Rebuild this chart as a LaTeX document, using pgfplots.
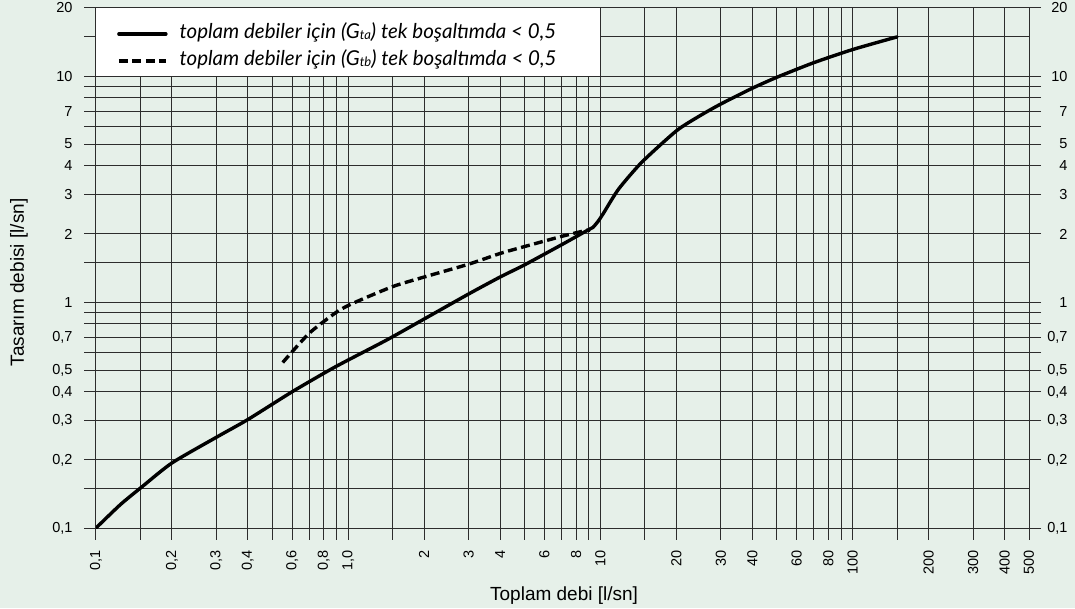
\documentclass[border=0pt]{standalone}
\usepackage{pgfplots}
\pgfplotsset{compat=1.18}
\usepackage{fontspec}
\setmainfont{Liberation Sans}
\newfontfamily\legfont{Lato}
\definecolor{bg}{RGB}{230,240,233}
\definecolor{gridc}{RGB}{45,45,45}

\pgfplotstableread{
x y
0.1 0.1
0.125 0.127
0.152 0.152
0.2 0.194
0.3 0.252
0.4 0.302
0.6 0.401
0.89 0.517
1.42 0.679
2.0 0.841
3.0 1.085
4.0 1.29
5.0 1.46
7.0 1.79
8.7 2.05
9.35 2.14
}\gtaA

\pgfplotstableread{
x y
9.35 2.14
9.8 2.28
10.3 2.48
11.8 3.16
14.6 4.16
20 5.72
24.5 6.62
30 7.52
40 8.83
50 9.87
70 11.45
100 13.1
150 14.9
}\gtaB

\pgfplotstableread{
x y
0.55 0.54
0.7 0.727
0.9 0.903
1.05 0.99
1.5 1.17
2.0 1.29
3.0 1.47
4.0 1.64
5.0 1.76
7.0 1.95
8.7 2.07
9.1 2.08
}\gtb

\begin{document}
\begin{tikzpicture}
\useasboundingbox (-96pt,-80pt) rectangle (979pt,528pt);
\fill[bg] (-96pt,-80pt) rectangle (979pt,528pt);
\begin{axis}[
  scale only axis, width=933pt, height=520pt,
  xmode=log, ymode=log,
  xmin=0.1, xmax=500, ymin=0.1, ymax=20,
  axis line style={gridc, line width=1pt},
  grid=major,
  major grid style={gridc, line width=1pt},
  every minor tick/.append style={draw=none},
  tick align=outside, major tick length=12pt,
  every tick/.append style={gridc, line width=1pt},
  xtick pos=bottom, ytick pos=left,
  xtick={0.1,0.15,0.2,0.3,0.4,0.5,0.6,0.7,0.8,0.9,1,1.5,2,3,4,5,6,7,8,9,10,15,20,30,40,50,60,70,80,90,100,150,200,300,400,500},
  xticklabels={{0,1},{},{0,2},{0,3},{0,4},{},{0,6},{},{0,8},{},{1,0},{},2,3,4,{},6,{},8,{},10,{},20,30,40,{},60,{},80,{},100,{},200,300,400,500},
  ytick={0.1,0.15,0.2,0.3,0.4,0.5,0.6,0.7,0.8,0.9,1,1.5,2,3,4,5,6,7,8,9,10,15,20},
  yticklabels={{0,1},{},{0,2},{0,3},{0,4},{0,5},{},{0,7},{},{},1,{},2,3,4,5,{},7,{},{},10,{},20},
  tick label style={font=\fontsize{14.5}{14.5}\selectfont},
  xticklabel style={yshift=-7pt, rotate=90, anchor=east},
  yticklabel style={anchor=east, xshift=-8pt},
  xlabel={Toplam debi [l/sn]},
  ylabel={Tasarım debisi [l/sn]},
  label style={font=\fontsize{19}{19}\selectfont},
  xlabel style={at={(axis description cs:0.5017,-0.13)}, anchor=center},
  ylabel style={at={(axis description cs:-0.0825,0.472)}, anchor=center},
  legend style={at={(axis description cs:0.0225,0.924)}, anchor=west,
    draw=none, fill=none, inner sep=0pt, row sep=8pt, column sep=12pt,
    font=\legfont\itshape\fontsize{20.5}{20.5}\selectfont,
    nodes={inner sep=0pt, text height=14pt, text depth=5pt}},
  legend cell align=left,
  legend image code/.code={\draw[#1] (0pt,0pt) -- (47pt,0pt);},
]
\draw[fill=white, draw=gridc, line width=1pt] (axis cs:0.1,10) rectangle (axis cs:10,20);
\addplot[black, line width=3.4pt, line cap=round, smooth, tension=0.4] table {\gtaA};
\addlegendentry{toplam debiler için (G\raisebox{-0.5pt}{\fontsize{13}{13}\selectfont ta}) tek boşaltımda < 0,5}
\addplot[black, line width=3.4pt, dash pattern=on 9pt off 4.5pt, smooth, tension=0.4] table {\gtb};
\addlegendentry{toplam debiler için (G\raisebox{-0.5pt}{\fontsize{13}{13}\selectfont tb}) tek boşaltımda < 0,5}
\addplot[black, line width=3.4pt, line cap=round, smooth, tension=0.4, forget plot] table {\gtaB};
\end{axis}
\begin{axis}[
  scale only axis, width=933pt, height=520pt,
  xmode=log, ymode=log,
  xmin=0.1, xmax=500, ymin=0.1, ymax=20,
  hide x axis,
  axis line style={draw=none},
  every minor tick/.append style={draw=none},
  tick align=outside, major tick length=12pt,
  every tick/.append style={gridc, line width=1pt},
  ytick pos=right, yticklabel pos=right,
  ytick={0.1,0.2,0.3,0.4,0.5,0.6,0.7,0.8,0.9,1,2,3,4,5,6,7,8,9,10,20},
  yticklabels={{0,1},{0,2},{0,3},{0,4},{0,5},{},{0,7},{},{},1,2,3,4,5,{},7,{},{},10,20},
  tick label style={font=\fontsize{14.5}{14.5}\selectfont},
  yticklabel style={anchor=east, xshift=30pt},
]
\end{axis}
\end{tikzpicture}
\end{document}
